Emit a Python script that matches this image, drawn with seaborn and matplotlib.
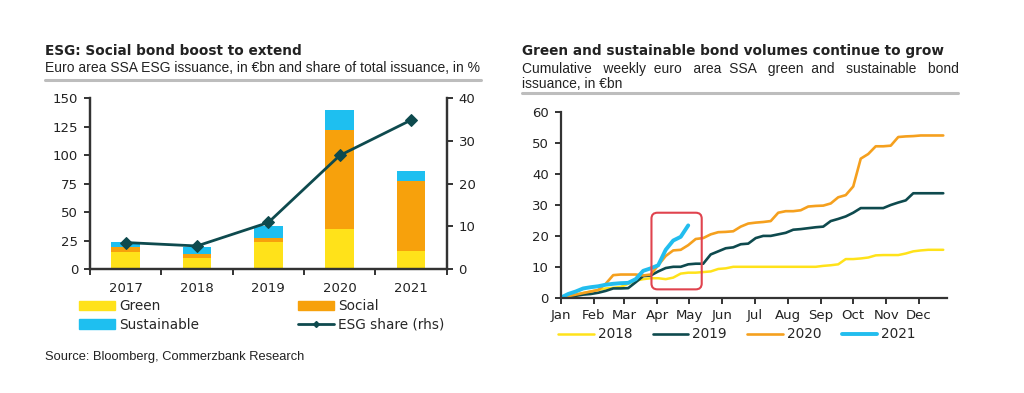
import numpy as np
import pandas as pd
import matplotlib
matplotlib.use("Agg")
import matplotlib.pyplot as plt
from matplotlib.patches import Patch, FancyBboxPatch
from matplotlib.lines import Line2D
import seaborn as sns

# ─── Data ─────────────────────────────────────────────────────────
years = ["2017", "2018", "2019", "2020", "2021"]
green = [14.5, 10.0, 24.0, 35.0, 16.0]
social = [4.5, 3.0, 3.0, 87.0, 61.0]
sustainable = [5.0, 6.0, 11.0, 18.0, 9.0]
esg_share = [6.2, 5.4, 10.9, 26.6, 34.9]

months = ["Jan", "Feb", "Mar", "Apr", "May", "Jun",
          "Jul", "Aug", "Sep", "Oct", "Nov", "Dec"]
month_start_week = [0, 4.43, 8.43, 12.86, 17.14, 21.57,
                    25.86, 30.29, 34.71, 39.0, 43.43, 47.71]

vol_2018 = [0, 0.5, 1.0, 1.5, 2.0, 2.5, 3.0, 3.2, 3.5, 4.5, 5.5, 6.0,
            6.3, 6.3, 6.0, 6.5, 7.8, 8.1, 8.1, 8.3, 8.5, 9.3, 9.5, 10.0,
            10.0, 10.0, 10.0, 10.0, 10.0, 10.0, 10.0, 10.0, 10.0, 10.0, 10.0, 10.3,
            10.5, 10.8, 12.5, 12.5, 12.7, 13.0, 13.7, 13.8, 13.8, 13.8, 14.3, 15.0,
            15.3, 15.5, 15.5, 15.5]
vol_2019 = [0, 0.3, 0.6, 1.0, 1.2, 1.6, 2.2, 3.0, 3.0, 3.1, 5.0, 7.0,
            7.2, 8.5, 9.6, 10.0, 10.0, 10.8, 11.0, 11.0, 14.0, 15.0, 16.0, 16.3,
            17.3, 17.5, 19.3, 20.0, 20.0, 20.5, 21.0, 22.0, 22.2, 22.5, 22.8, 23.0,
            24.8, 25.5, 26.3, 27.5, 29.0, 29.0, 29.0, 29.0, 30.0, 30.8, 31.5, 33.8,
            33.8, 33.8, 33.8, 33.8]
vol_2020 = [0, 0.5, 1.0, 1.5, 2.0, 2.5, 4.5, 7.3, 7.5, 7.5, 7.5, 7.2,
            7.5, 10.5, 13.5, 15.3, 15.5, 17.0, 19.0, 19.3, 20.5, 21.2, 21.3, 21.5,
            23.0, 24.0, 24.3, 24.5, 24.8, 27.5, 28.0, 28.0, 28.3, 29.5, 29.7, 29.8,
            30.5, 32.5, 33.2, 36.0, 45.0, 46.5, 49.0, 49.0, 49.2, 52.0, 52.2, 52.3,
            52.5, 52.5, 52.5, 52.5]
vol_2021 = [0, 1.2, 2.0, 3.0, 3.4, 3.7, 4.2, 4.5, 4.7, 4.8, 6.0, 8.7,
            9.5, 10.5, 15.5, 18.5, 19.7, 23.4]

# ─── Style ────────────────────────────────────────────────────────
C_GREEN = "#FFE21A"
C_SOCIAL = "#F7A10C"
C_SUST = "#1EBFF0"
C_TEAL = "#0E4A4E"
C_AXIS = "#333333"
C_TEXT = "#222222"

sns.set_theme(style="ticks")
plt.rcParams.update({
    "font.family": ["DejaVu Sans"],
    "axes.spines.top": False,
    "axes.edgecolor": C_AXIS,
    "xtick.color": C_AXIS,
    "ytick.color": C_AXIS,
    "xtick.labelcolor": C_TEXT,
    "ytick.labelcolor": C_TEXT,
})

W, H = 1024, 393
fig = plt.figure(figsize=(W / 100, H / 100), dpi=100)


def fx(x):
    return x / W


def fy(y):
    return 1 - y / H


def rule(x0, x1, y):
    fig.add_artist(Line2D([fx(x0), fx(x1)], [fy(y), fy(y)], color="#bdbdbd", lw=2.2))


SUB = dict(fontsize=10.0, family="Liberation Sans", color=C_TEXT, va="baseline")

# ══════════════════════════════════════════════════════════════════
# Left: ESG issuance stacked bars + share line
# ══════════════════════════════════════════════════════════════════
ax1 = fig.add_axes([fx(90), fy(269), fx(446.7) - fx(90), fy(98.3) - fy(269)])

bar_df = pd.DataFrame({"year": years, "green": green, "social": social, "sust": sustainable})
bar_df["gs"] = bar_df["green"] + bar_df["social"]
bar_df["total"] = bar_df["gs"] + bar_df["sust"]

# layered bars, tallest first
for col, c in [("total", C_SUST), ("gs", C_SOCIAL), ("green", C_GREEN)]:
    sns.barplot(data=bar_df, x="year", y=col, color=c, width=0.4,
                saturation=1, linewidth=0, ax=ax1)

ax1.set_ylim(0, 150)
ax1.set_yticks([0, 25, 50, 75, 100, 125, 150])
ax1.set_xlim(-0.5, 4.5)
ax1.set_xlabel("")
ax1.set_ylabel("")
ax1.spines["right"].set_visible(True)
for s in ["left", "right", "bottom"]:
    ax1.spines[s].set_linewidth(1.6)
ax1.tick_params(axis="x", which="major", length=0, pad=9, labelsize=9.5)
ax1.set_xticks(np.arange(-0.5, 5, 1), minor=True)
ax1.tick_params(axis="x", which="minor", length=4, width=1.4, direction="out")
ax1.tick_params(axis="y", length=4, width=1.4, labelsize=9.5, pad=4.5)

ax1r = ax1.twinx()
sns.lineplot(x=np.arange(len(years)), y=esg_share, color=C_TEAL, lw=2.0,
             marker="D", markersize=6.5, markeredgecolor=C_TEAL, ax=ax1r)
ax1r.set_ylim(0, 40)
ax1r.set_yticks([0, 10, 20, 30, 40])
ax1r.spines["top"].set_visible(False)
for s in ["left", "right", "bottom"]:
    ax1r.spines[s].set_linewidth(1.6)
ax1r.tick_params(axis="y", length=4, width=1.4, labelsize=9.5, pad=4.5)

fig.text(fx(45), fy(55), "ESG: Social bond boost to extend", fontsize=9.8,
         fontweight="bold", color=C_TEXT, va="baseline")
fig.text(fx(45), fy(72.5),
         "Euro area SSA ESG issuance, in €bn and share of total issuance, in %", **SUB)
rule(45, 481, 79.5)

handles = [Patch(color=C_GREEN), Patch(color=C_SUST), Patch(color=C_SOCIAL),
           Line2D([], [], color=C_TEAL, lw=2.0, marker="D", markersize=3)]
labels = ["Green", "Sustainable", "Social", "ESG share (rhs)"]
fig.legend(handles, labels, ncol=2, loc="upper left",
           bbox_to_anchor=(fx(74), fy(294)), frameon=False, fontsize=9.8,
           handlelength=2.6, handleheight=0.7, handletextpad=0.3,
           columnspacing=7.3, labelspacing=0.3, borderaxespad=0)

fig.text(fx(45), fy(360), "Source: Bloomberg, Commerzbank Research",
         fontsize=9.3, family="Liberation Sans", color=C_TEXT, va="baseline")

# ══════════════════════════════════════════════════════════════════
# Right: cumulative weekly green & sustainable volumes
# ══════════════════════════════════════════════════════════════════
ax2 = fig.add_axes([fx(560.7), fy(297.7), fx(947) - fx(560.7), fy(112.3) - fy(297.7)])

series = [("2018", vol_2018, "#FFE21A", 1.8), ("2019", vol_2019, C_TEAL, 1.9),
          ("2020", vol_2020, "#F5A01E", 1.9), ("2021", vol_2021, "#22BDEE", 2.8)]
for name, vals, c, lw in series:
    sns.lineplot(x=np.arange(len(vals)), y=vals, color=c, lw=lw, ax=ax2,
                 label=name, legend=False)

ax2.add_patch(FancyBboxPatch((12.1, 2.7), 6.7, 24.8,
                             boxstyle="round,pad=0,rounding_size=0.8",
                             mutation_aspect=2.4, fill=False,
                             edgecolor="#E0434E", lw=1.5, zorder=5))

ax2.set_xlim(0, 51.5)
ax2.set_ylim(0, 60)
ax2.set_yticks([0, 10, 20, 30, 40, 50, 60])
ax2.set_xticks(month_start_week)
ax2.set_xticklabels(months)
for s in ["left", "bottom"]:
    ax2.spines[s].set_linewidth(1.6)
ax2.spines["right"].set_visible(False)
ax2.tick_params(axis="x", length=4, width=1.4, labelsize=9.5, pad=4)
ax2.tick_params(axis="y", length=4, width=1.4, labelsize=9.5, pad=4.5)

fig.text(fx(522), fy(55), "Green and sustainable bond volumes continue to grow",
         fontsize=9.8, fontweight="bold", color=C_TEXT, va="baseline")

# first subtitle line is justified in the original: pad gaps with spaces
fig.canvas.draw()
renderer = fig.canvas.get_renderer()


def text_w(s):
    t = fig.text(0, 0, s, **SUB)
    w = t.get_window_extent(renderer).width
    t.remove()
    return w


words = "Cumulative weekly euro area SSA green and sustainable bond".split()
space_w = text_w("a a") - text_w("aa")
gap = (958 - 522 - sum(text_w(w) for w in words)) / (len(words) - 1)
line1, ideal, actual = words[0], 0.0, 0.0
for w in words[1:]:
    ideal += gap
    n = max(1, round((ideal - actual) / space_w))
    actual += n * space_w
    line1 += " " * n + w
fig.text(fx(522), fy(72.5), line1, **SUB)
fig.text(fx(522), fy(87.5), "issuance, in €bn", **SUB)
rule(522, 958, 93)

h2 = [Line2D([], [], color=c, lw=lw) for _, _, c, lw in series]
fig.legend(h2, [s[0] for s in series], ncol=4, loc="center left",
           bbox_to_anchor=(fx(553), fy(334.5)), frameon=False, fontsize=9.8,
           handlelength=2.6, handletextpad=0.3, columnspacing=1.5, borderaxespad=0)

fig.savefig("out.png", dpi=100)
